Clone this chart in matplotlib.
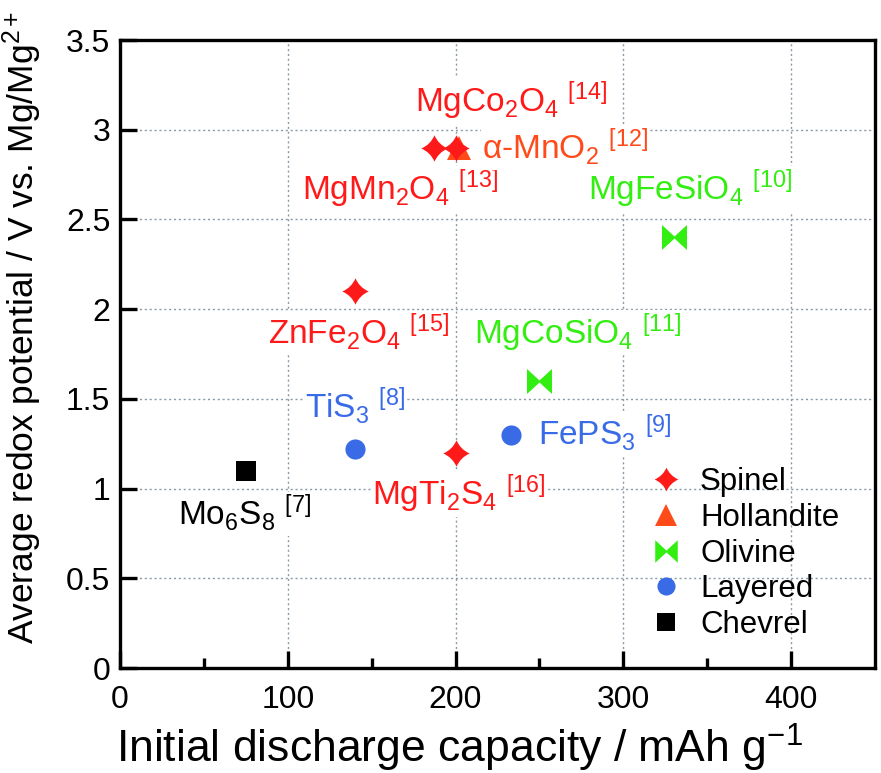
import matplotlib
matplotlib.use("Agg")
import matplotlib.pyplot as plt
from matplotlib.path import Path
from matplotlib.lines import Line2D

plt.rcParams['font.family'] = ['Liberation Sans', 'DejaVu Sans']
plt.rcParams['mathtext.fontset'] = 'custom'
plt.rcParams['mathtext.rm'] = 'Liberation Sans'
plt.rcParams['mathtext.it'] = 'Liberation Sans:italic'
plt.rcParams['mathtext.default'] = 'rm'

# ---- data ----
categories = ["Spinel", "Hollandite", "Olivine", "Layered", "Chevrel"]
materials = ["MgMn2O4", "MgCo2O4", "α-MnO2", "MgFeSiO4", "ZnFe2O4",
             "MgCoSiO4", "TiS3", "FePS3", "MgTi2S4", "Mo6S8"]
material_cat = ["Spinel", "Spinel", "Hollandite", "Olivine", "Spinel",
                "Olivine", "Layered", "Layered", "Spinel", "Chevrel"]
capacity = [187, 200, 202, 330, 140, 250, 140, 233, 200, 75]
potential = [2.9, 2.9, 2.9, 2.4, 2.1, 1.6, 1.22, 1.3, 1.2, 1.1]
refs = ["13", "14", "12", "10", "15", "11", "8", "9", "16", "7"]
labels_tex = [r"MgMn$_2$O$_4$", r"MgCo$_2$O$_4$", r"α-MnO$_2$", r"MgFeSiO$_4$",
              r"ZnFe$_2$O$_4$", r"MgCoSiO$_4$", r"TiS$_3$", r"FePS$_3$",
              r"MgTi$_2$S$_4$", r"Mo$_6$S$_8$"]

# ---- layout / style ----
label_pos = {  # (x, y, ha)
    "MgMn2O4": (167, 2.67, "center"),
    "MgCo2O4": (233, 3.16, "center"),
    "α-MnO2": (216, 2.90, "left"),
    "MgFeSiO4": (340, 2.67, "center"),
    "ZnFe2O4": (142, 1.87, "center"),
    "MgCoSiO4": (273, 1.87, "center"),
    "TiS3": (140, 1.46, "center"),
    "FePS3": (249, 1.31, "left"),
    "MgTi2S4": (202, 0.97, "center"),
    "Mo6S8": (74, 0.86, "center"),
}

star_verts = [(0, 1), (0.3, 0.3), (1, 0), (0.3, -0.3), (0, -1),
              (-0.3, -0.3), (-1, 0), (-0.3, 0.3), (0, 1), (0, 1)]
star_codes = [Path.MOVETO, Path.CURVE3, Path.CURVE3, Path.CURVE3, Path.CURVE3,
              Path.CURVE3, Path.CURVE3, Path.CURVE3, Path.CURVE3, Path.CLOSEPOLY]
star_path = Path(star_verts, star_codes)
bow_path = Path([(-1, 1), (0, 0.08), (1, 1), (1, -1), (0, -0.08), (-1, -1), (-1, 1)],
                [Path.MOVETO] + [Path.LINETO] * 5 + [Path.CLOSEPOLY])

style = {
    "Spinel": dict(marker=star_path, color="#FF1A1A", ms=19),
    "Hollandite": dict(marker="^", color="#FF4A1A", ms=17),
    "Olivine": dict(marker=bow_path, color="#33EE11", ms=18),
    "Layered": dict(marker="o", color="#3A6BE6", ms=14.5),
    "Chevrel": dict(marker="s", color="#000000", ms=14.5),
}

fig = plt.figure(figsize=(8.81, 7.73), dpi=100)
ax = fig.add_axes([0.1362, 0.1358, 0.9932 - 0.1362, 0.9482 - 0.1358])

# draw hollandite first so spinel overlaps it
order = [2, 0, 1, 3, 4, 5, 6, 7, 8, 9]
for i in order:
    st = style[material_cat[i]]
    ax.plot(capacity[i], potential[i], linestyle="none", marker=st["marker"],
            color=st["color"], markersize=st["ms"], markeredgewidth=0, zorder=5)

for i, name in enumerate(materials):
    st = style[material_cat[i]]
    x, y, ha = label_pos[name]
    txt = labels_tex[i] + r" $^{[" + refs[i] + r"]}$"
    ax.text(x, y, txt, color=st["color"], fontsize=24, ha=ha, va="center",
            bbox=dict(facecolor="white", edgecolor="none", pad=1), zorder=4)

ax.set_xlim(0, 450)
ax.set_ylim(0, 3.5)
ax.set_xticks([0, 100, 200, 300, 400])
ax.set_xticks([50, 150, 250, 350], minor=True)
ax.set_yticks([0, 0.5, 1, 1.5, 2, 2.5, 3, 3.5])
ax.set_yticklabels(["0", "0.5", "1", "1.5", "2", "2.5", "3", "3.5"])
ax.grid(True, which="major", color="#8a9aa6", linestyle=(0, (1.5, 2)), linewidth=1.0, zorder=0)
ax.set_axisbelow(True)

for sp in ax.spines.values():
    sp.set_linewidth(2.4)
ax.tick_params(axis="both", which="major", direction="in", length=12, width=2.4,
               labelsize=23, top=False, right=False)
ax.tick_params(axis="y", which="major", pad=7)
ax.tick_params(axis="x", which="major", pad=12)
ax.tick_params(axis="x", which="minor", direction="in", length=7, width=2.4, top=False)

ax.set_xlabel(r"Initial discharge capacity / mAh g$^{-1}$", fontsize=32)
ax.xaxis.set_label_coords(0.45, -0.086)
ax.set_ylabel(r"Average redox potential / V vs. Mg/Mg$^{2+}$", fontsize=25.5,
              family=['Liberation Sans Narrow', 'Liberation Sans'])
ax.yaxis.set_label_coords(-0.10, 0.543)

handles = [Line2D([], [], linestyle="none", marker=style[c]["marker"], color=style[c]["color"],
                  markersize=style[c]["ms"] * 0.9, markeredgewidth=0) for c in categories]
leg = ax.legend(handles, categories, loc="lower right", frameon=False, fontsize=22.5,
                handlelength=1.0, handletextpad=0.6, labelspacing=0.18,
                bbox_to_anchor=(0.99, 0.0))

fig.savefig("out.png", dpi=100)
